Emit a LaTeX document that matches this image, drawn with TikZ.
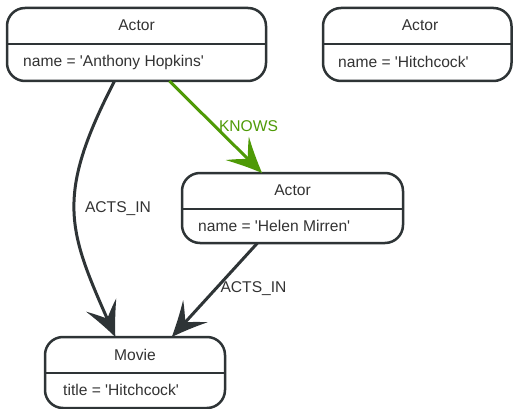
\documentclass[tikz,border=0pt]{standalone}
\usepackage{fontspec}
\setmainfont{Liberation Sans}
\usetikzlibrary{arrows.meta}
\definecolor{ink}{HTML}{2E3436}
\definecolor{txt}{HTML}{333333}
\definecolor{knowsgreen}{HTML}{4E9A06}
\newcommand{\sq}{\textquotesingle}
\pgfdeclarearrow{
  name = Spike,
  setup code = {
    \pgfarrowssettipend{0pt}
    \pgfarrowssetbackend{-35pt}
    \pgfarrowssetlineend{-18pt}
    \pgfarrowshullpoint{0pt}{0pt}
    \pgfarrowshullpoint{-35pt}{16.5pt}
    \pgfarrowshullpoint{-35pt}{-16.5pt}
  },
  drawing code = {
    \pgfpathmoveto{\pgfqpoint{0pt}{0pt}}
    \pgfpathcurveto{\pgfqpoint{-12pt}{4.8pt}}{\pgfqpoint{-23pt}{10pt}}{\pgfqpoint{-35pt}{16.5pt}}
    \pgfpathcurveto{\pgfqpoint{-29pt}{9.2pt}}{\pgfqpoint{-24pt}{4pt}}{\pgfqpoint{-20pt}{0pt}}
    \pgfpathcurveto{\pgfqpoint{-24pt}{-4pt}}{\pgfqpoint{-29pt}{-9.2pt}}{\pgfqpoint{-35pt}{-16.5pt}}
    \pgfpathcurveto{\pgfqpoint{-23pt}{-10pt}}{\pgfqpoint{-12pt}{-4.8pt}}{\pgfqpoint{0pt}{0pt}}
    \pgfpathclose
    \pgfusepathqfill
  }
}
\tikzset{
  entity/.style={draw=ink, line width=2.5pt, rounded corners=18pt, fill=white, outer sep=0pt, inner sep=0pt},
  divider/.style={draw=ink, line width=2.5pt},
  title/.style={text=txt, font=\fontsize{15.6}{18}\selectfont, inner sep=0pt},
  prop/.style={text=txt, font=\fontsize{15.6}{18}\selectfont, inner sep=0pt, anchor=west},
  rel/.style={draw=ink, line width=3pt, -{Spike}},
  knows/.style={draw=knowsgreen, line width=3pt, -{Spike}},
  lbl/.style={text=txt, font=\fontsize{15.6}{18}\selectfont, inner sep=0pt},
}
\begin{document}
\begin{tikzpicture}[x=1pt,y=-1pt]
\useasboundingbox (0,0) rectangle (514,409);
% Actor Anthony Hopkins
\node[entity, minimum width=259pt, minimum height=73pt] (a) at (136.5,44.5) {};
\coordinate (adl) at (7,44); \coordinate (adr) at (266,44);
\draw[divider] (adl) -- (adr);
\node[title] (at) at (136.5,25.5) {Actor};
\node[prop] (ap) at (23,62) {name = \sq Anthony Hopkins\sq};
% Actor Hitchcock
\node[entity, minimum width=188.5pt, minimum height=73pt] (b) at (417.25,44.5) {};
\coordinate (bdl) at (323,44); \coordinate (bdr) at (511.5,44);
\draw[divider] (bdl) -- (bdr);
\node[title] (bt) at (420,25.5) {Actor};
\node[prop] (bp) at (338,62) {name = \sq Hitchcock\sq};
% Actor Helen Mirren
\node[entity, minimum width=221pt, minimum height=70pt] (c) at (292.5,208) {};
\coordinate (cdl) at (182,209); \coordinate (cdr) at (403,209);
\draw[divider] (cdl) -- (cdr);
\node[title] (ct) at (292.5,190) {Actor};
\node[prop] (cp) at (198,226) {name = \sq Helen Mirren\sq};
% Movie
\node[entity, minimum width=180pt, minimum height=71pt] (d) at (135,372.5) {};
\coordinate (ddl) at (45,373); \coordinate (ddr) at (225,373);
\draw[divider] (ddl) -- (ddr);
\node[title] (dt) at (135,354.5) {Movie};
\node[prop] (dp) at (63,390) {title = \sq Hitchcock\sq};
% edges
\draw[rel] (a.239.5) .. controls (55,196) and (68,230) .. (d.119);
\draw[rel] (c.225.4) -- (d.44.6);
\draw[knows] (a.312.5) -- (c.131);
% labels
\node[lbl] (l1) at (118,209) {ACTS\_IN};
\node[lbl] (l2) at (253.5,289) {ACTS\_IN};
\node[lbl, text=knowsgreen] (l3) at (248.5,126) {KNOWS};
\end{tikzpicture}
\end{document}
